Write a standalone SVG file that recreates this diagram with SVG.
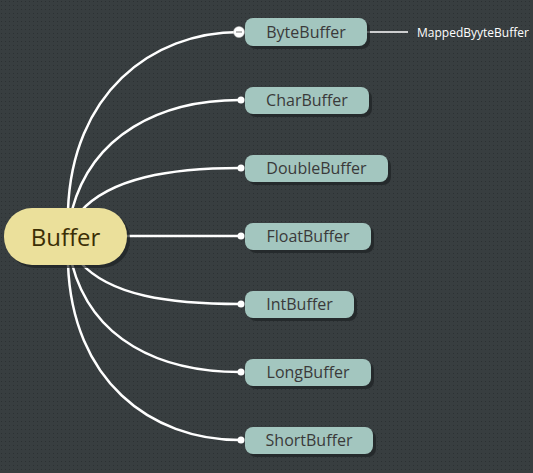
<svg xmlns="http://www.w3.org/2000/svg" width="533" height="473" viewBox="0 0 533 473">
<defs>
<pattern id="dots" width="4" height="4" patternUnits="userSpaceOnUse">
<rect width="4" height="4" fill="#383e40"/>
<rect x="1" y="1" width="1" height="1" fill="#2c3133"/>
</pattern>
</defs>
<style>
.conn{fill:none;stroke:#fff;stroke-width:2.5}
.dot{fill:#fff}
.child{fill:#a3c6bf}
.shadow{fill:#1e2224;opacity:0.7}
.ct{font-family:"Open Sans","Noto Sans",sans-serif;font-size:16px;fill:#3a3a3a;text-anchor:middle}
</style>
<rect width="533" height="473" fill="url(#dots)"/>
<g id="connectors">
<path class="conn" d="M68 210 C72 95 150 32 240 32"/>
<path class="conn" d="M72 210 C92 135 160 100 240 100"/>
<path class="conn" d="M80 212 C110 178 170 168 240 168"/>
<path class="conn" d="M120 236 L240 236"/>
<path class="conn" d="M80 262 C110 296 170 304 240 304"/>
<path class="conn" d="M72 264 C92 340 160 372 240 372"/>
<path class="conn" d="M68 264 C72 380 150 440 240 440"/>
<path d="M367 32 L408 32" stroke="#fff" stroke-width="1.5"/>
<circle class="dot" cx="241" cy="100" r="3.5"/>
<circle class="dot" cx="241" cy="168" r="3.5"/>
<circle class="dot" cx="241" cy="236" r="3.5"/>
<circle class="dot" cx="241" cy="304" r="3.5"/>
<circle class="dot" cx="241" cy="372" r="3.5"/>
<circle class="dot" cx="241" cy="440" r="3.5"/>
</g>
<g id="buffer">
<rect class="shadow" x="7" y="211" width="123" height="57" rx="28"/>
<rect x="4" y="208" width="123" height="57" rx="28" fill="#ebe09b"/>
<text x="65.500" y="246" font-family="'Open Sans','Noto Sans',sans-serif" font-size="24" fill="#3b2e05" text-anchor="middle">Buffer</text>
</g>
<g id="bytebuffer">
<rect class="shadow" x="248" y="21" width="122" height="28" rx="8"/>
<rect class="child" x="245" y="18" width="122" height="28" rx="8"/>
<text class="ct" x="306" y="38">ByteBuffer</text>
<circle cx="239" cy="32" r="5.5" fill="#fff" stroke="#bbb" stroke-width="0.5"/>
<line x1="236" y1="32" x2="242" y2="32" stroke="#888" stroke-width="1.2"/>
</g>
<g id="mapped">
<text x="417" y="37" font-family="'Open Sans','Noto Sans',sans-serif" font-size="12" fill="#fff">MappedByyteBuffer</text>
</g>
<g id="charbuffer">
<rect class="shadow" x="248" y="90" width="124" height="27" rx="8"/>
<rect class="child" x="245" y="87" width="124" height="27" rx="8"/>
<text class="ct" x="307" y="106">CharBuffer</text>
</g>
<g id="doublebuffer">
<rect class="shadow" x="248" y="158" width="143" height="27" rx="8"/>
<rect class="child" x="245" y="155" width="143" height="27" rx="8"/>
<text class="ct" x="316.500" y="174">DoubleBuffer</text>
</g>
<g id="floatbuffer">
<rect class="shadow" x="248" y="226" width="126" height="27" rx="8"/>
<rect class="child" x="245" y="223" width="126" height="27" rx="8"/>
<text class="ct" x="308" y="242">FloatBuffer</text>
</g>
<g id="intbuffer">
<rect class="shadow" x="248" y="294" width="109" height="27" rx="8"/>
<rect class="child" x="245" y="291" width="109" height="27" rx="8"/>
<text class="ct" x="299.500" y="310">IntBuffer</text>
</g>
<g id="longbuffer">
<rect class="shadow" x="248" y="362" width="126" height="27" rx="8"/>
<rect class="child" x="245" y="359" width="126" height="27" rx="8"/>
<text class="ct" x="308" y="378">LongBuffer</text>
</g>
<g id="shortbuffer">
<rect class="shadow" x="248" y="430" width="128" height="27" rx="8"/>
<rect class="child" x="245" y="427" width="128" height="27" rx="8"/>
<text class="ct" x="309" y="446">ShortBuffer</text>
</g>
</svg>
